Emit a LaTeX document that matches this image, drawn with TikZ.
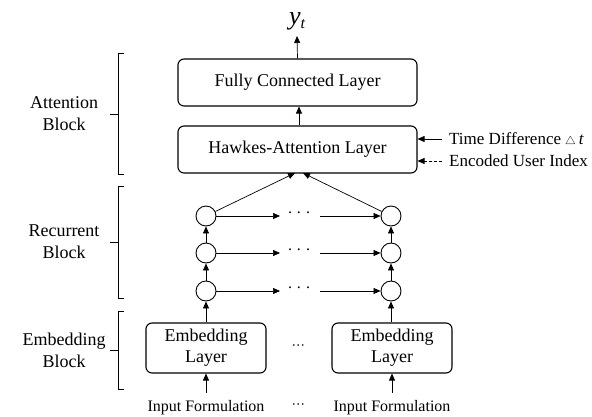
\documentclass[tikz,border=0pt]{standalone}
\usepackage{fontspec}
\setmainfont{Liberation Serif}
\usepackage{unicode-math}
\setmathfont{Latin Modern Math}
\usetikzlibrary{arrows.meta}
\tikzset{
  box/.style={draw, line width=1.1pt, rounded corners=6pt, minimum width=239pt, minimum height=47pt, inner sep=0pt, font=\fontsize{18}{22}\selectfont},
  ebox/.style={draw, line width=1.1pt, rounded corners=6pt, minimum width=120pt, minimum height=50pt, inner sep=0pt, align=center, font=\fontsize{18}{21}\selectfont},
  cell/.style={draw, line width=0.9pt, circle, minimum size=20pt, inner sep=0pt},
  arr/.style={line width=0.7pt, -{Triangle[length=7pt,width=6pt]}},
  brace/.style={line width=0.7pt},
  side/.style={align=center, inner sep=0pt, font=\fontsize{18}{22}\selectfont},
  note/.style={anchor=west, inner sep=0pt, font=\fontsize{17}{20}\selectfont},
  inp/.style={inner sep=0pt, font=\fontsize{16}{19}\selectfont},
  dots/.style={inner sep=0pt, font=\fontsize{16}{19}\selectfont}
}
\begin{document}
\begin{tikzpicture}[x=1pt,y=-1pt]
\useasboundingbox (0,0) rectangle (592,416);
% boxes
\node[box] (fc) at (297.5,82.5) {Fully Connected Layer};
\node[box] (ha) at (297.5,149.5) {Hawkes-Attention Layer};
\node[inner sep=0pt, font=\fontsize{26}{28}\selectfont] (y) at (297,21) {\itshape y\raisebox{-4pt}{\fontsize{16}{18}\selectfont t}};
\coordinate (ytop) at (297,36);
\draw[arr] (fc.north) -- (ytop);
\draw[arr] ([xshift=1.5pt]ha.north) -- ([xshift=1.5pt]fc.south);
% cells
\node[cell] (l1) at (206,291) {};
\node[cell] (l2) at (206,253) {};
\node[cell] (l3) at (206,216) {};
\node[cell] (r1) at (391,291) {};
\node[cell] (r2) at (391,253) {};
\node[cell] (r3) at (391,216) {};
\draw[arr] (l1) -- (l2);
\draw[arr] (l2) -- (l3);
\draw[arr] (r1) -- (r2);
\draw[arr] (r2) -- (r3);
\foreach \i/\yy in {1/291,2/253,3/216}{
  \coordinate (m\i) at (280,\yy);
  \coordinate (s\i) at (320,\yy);
  \node[dots] (d\i) at (299,\yy-3) {.\hspace{5pt}.\hspace{5pt}.};
  \draw[arr] (l\i) -- (m\i);
  \draw[arr] (s\i) -- (r\i);
}
\coordinate (hal) at (295,173);
\coordinate (har) at (303,173);
\draw[arr] (l3) -- (hal);
\draw[arr] (r3) -- (har);
% embedding
\node[ebox] (e1) at (206,348) {Embedding\\Layer};
\node[ebox] (e2) at (392,348) {Embedding\\Layer};
\node[dots] (ed) at (299,347) {$\cdots$};
\draw[arr] (e1.north) -- (l1);
\draw[arr] (e2.north -| r1) -- (r1);
\node[inp] (i1) at (206,408) {Input Formulation};
\node[inp] (i2) at (392,408) {Input Formulation};
\node[dots] (id) at (299,406) {$\cdots$};
\coordinate (i1a) at (206,393);
\coordinate (i2a) at (392,393);
\draw[arr] (i1a) -- (e1.south);
\draw[arr] (i2a) -- (e2.south);
% side inputs
\node[note] (td) at (449,139) {Time Difference {\fontsize{11}{12}\selectfont$\triangle$}\,\textit{t}};
\node[note] (eu) at (449,161) {Encoded User Index};
\draw[arr] (td.west) ++(-7,0) -- (ha.east |- td.west);
\draw[arr, dashed, dash pattern=on 3pt off 2pt] (eu.west) ++(-7,0) -- (ha.east |- eu.west);
% braces
\draw[brace] (124,53) -- (118,53) -- (118,174) -- (124,174);
\draw[brace] (118,114) -- (110,114);
\draw[brace] (124,186) -- (118,186) -- (118,298) -- (124,298);
\draw[brace] (118,242) -- (110,242);
\draw[brace] (124,311) -- (118,311) -- (118,389) -- (124,389);
\draw[brace] (118,350) -- (110,350);
\node[side] (ab) at (64,114) {Attention\\Block};
\node[side] (rb) at (64,242) {Recurrent\\Block};
\node[side] (eb) at (64,350) {Embedding\\Block};
\end{tikzpicture}
\end{document}
